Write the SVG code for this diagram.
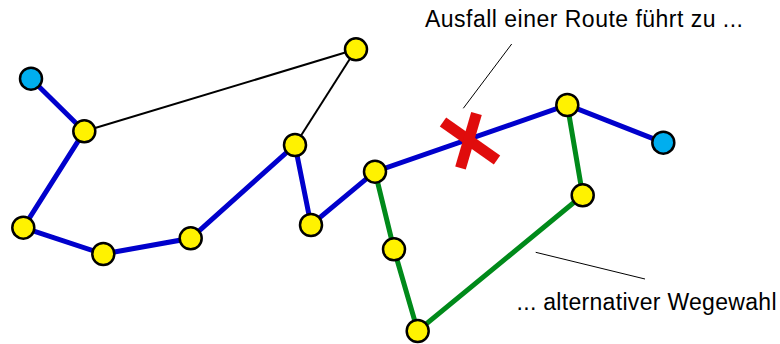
<svg xmlns="http://www.w3.org/2000/svg" width="780" height="344" viewBox="0 0 780 344">
<style>
.blue{stroke:#0000cc;stroke-width:5;fill:none}
.green{stroke:#008a1a;stroke-width:5;fill:none}
.thin{stroke:#000;stroke-width:2;fill:none}
.lead{stroke:#000;stroke-width:1;fill:none}
.y{fill:#fff200;stroke:#000;stroke-width:2.5}
.c{fill:#00aeef;stroke:#000;stroke-width:2.5}
.t{font-family:"Liberation Sans",Arial,sans-serif;font-size:23px;fill:#000}
.x{stroke:#e00c0c;stroke-width:11;stroke-linecap:butt}
</style>
<rect width="780" height="344" fill="#fff"/>
<g id="connectors">
<line class="thin" x1="84.3" y1="131.3" x2="356" y2="49.3"/>
<line class="thin" x1="356" y1="49.3" x2="295" y2="145"/>
<polyline class="blue" points="31,78.7 84.3,131.3 23.3,227.7 103.3,254 190.7,238.3 295,145 311,225 375,171.7 567.3,105 663.3,142.7"/>
<polyline class="green" points="375,171.7 394,249.3 417.7,331 582.7,195.3 567.3,105"/>
<line class="lead" x1="511.7" y1="44" x2="463.3" y2="108.3"/>
<line class="lead" x1="535.7" y1="252.3" x2="645" y2="279"/>
</g>
<g id="fail-mark">
<line class="x" x1="443" y1="122" x2="497" y2="160"/>
<line class="x" x1="476.5" y1="113.5" x2="460.5" y2="168"/>
</g>
<g id="n1"><circle class="c" cx="31" cy="78.7" r="11"/></g>
<g id="n2"><circle class="y" cx="84.3" cy="131.3" r="11"/></g>
<g id="n3"><circle class="y" cx="23.3" cy="227.7" r="11"/></g>
<g id="n4"><circle class="y" cx="103.3" cy="254" r="11"/></g>
<g id="n5"><circle class="y" cx="190.7" cy="238.3" r="11"/></g>
<g id="n6"><circle class="y" cx="295" cy="145" r="11"/></g>
<g id="n7"><circle class="y" cx="356" cy="49.3" r="11"/></g>
<g id="n8"><circle class="y" cx="311" cy="225" r="11"/></g>
<g id="n9"><circle class="y" cx="375" cy="171.7" r="11"/></g>
<g id="n10"><circle class="y" cx="567.3" cy="105" r="11"/></g>
<g id="n11"><circle class="c" cx="663.3" cy="142.7" r="11"/></g>
<g id="n12"><circle class="y" cx="582.7" cy="195.3" r="11"/></g>
<g id="n13"><circle class="y" cx="394" cy="249.3" r="11"/></g>
<g id="n14"><circle class="y" cx="417.7" cy="331" r="11"/></g>
<g id="labels">
<text class="t" x="425" y="27" textLength="318">Ausfall einer Route führt zu ...</text>
<text class="t" x="516.5" y="310" textLength="260">... alternativer Wegewahl</text>
</g>
</svg>
